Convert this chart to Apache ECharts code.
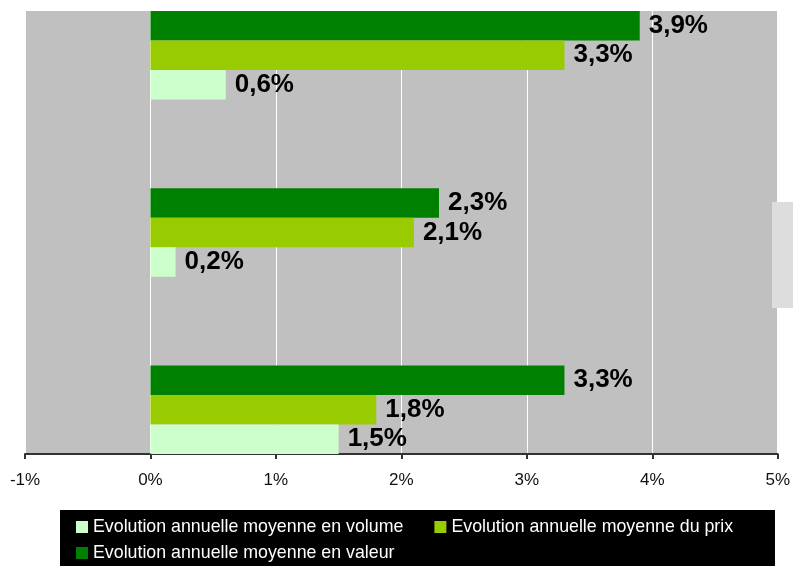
<!DOCTYPE html>
<html>
<head>
<meta charset="utf-8">
<script src="https://cdn.jsdelivr.net/npm/echarts@6/dist/echarts.min.js"></script>
<style>html,body{margin:0;padding:0;background:#fff}#c{width:793px;height:566px}</style>
</head>
<body>
<div id="c"></div>
<script>
// Categories listed bottom to top (no visible labels in the reference)
const categories = ['Groupe 3', 'Groupe 2', 'Groupe 1'];
const seriesNames = ['Evolution annuelle moyenne en volume', 'Evolution annuelle moyenne du prix', 'Evolution annuelle moyenne en valeur'];
const volume = [1.5, 0.2, 0.6];
const prix = [1.8, 2.1, 3.3];
const valeur = [3.3, 2.3, 3.9];
const xTicks = [-1, 0, 1, 2, 3, 4, 5];
const colors = ['#CCFFCC', '#99CC00', '#008000'];

// Interleave an empty slot between the groups so the gaps equal the group height
function spaced(arr) {
  const out = [];
  arr.forEach((v, i) => { if (i > 0) out.push('-'); out.push(v); });
  return out;
}
const yData = spaced(categories).map(v => v === '-' ? '' : v);

const fmt = v => v.toFixed(1).replace('.', ',') + '%';

const mkSeries = (name, data, color) => ({
  name: name,
  type: 'bar',
  data: spaced(data),
  barGap: '0%',
  barCategoryGap: '0%',
  itemStyle: { color: color },
  label: {
    show: true, position: 'right', distance: 9,
    formatter: p => fmt(p.value),
    fontFamily: 'Arial, "Liberation Sans", sans-serif',
    fontWeight: 'bold', fontSize: 26, color: '#000'
  },
  emphasis: { disabled: true },
  animation: false
});

const chart = echarts.init(document.getElementById('c'));
chart.setOption({
  animation: false,
  textStyle: { fontFamily: 'Arial, "Liberation Sans", sans-serif' },
  grid: {
    left: 25, right: 14, top: 11, bottom: 112,
    show: true, backgroundColor: '#C0C0C0', borderWidth: 0
  },
  xAxis: {
    type: 'value', min: xTicks[0], max: xTicks[xTicks.length - 1], interval: 1,
    axisLine: { show: true, onZero: false, lineStyle: { color: '#333', width: 2 } },
    axisTick: { show: true, length: 5, lineStyle: { color: '#333', width: 2 } },
    axisLabel: { margin: 18, fontSize: 17, color: '#111', formatter: v => v + '%' },
    splitLine: { show: true, lineStyle: { color: '#FFFFFF', width: 1 } }
  },
  yAxis: {
    type: 'category', data: yData,
    axisLine: { show: false }, axisTick: { show: false }, axisLabel: { show: false },
    splitLine: { show: false }
  },
  legend: [
    {
      data: [seriesNames[0], seriesNames[1]],
      left: 76, top: 518, padding: 0, itemGap: 31,
      itemWidth: 12, itemHeight: 12, icon: 'rect',
      textStyle: { color: '#fff', fontSize: 17.8 }
    },
    {
      data: [seriesNames[2]],
      left: 76, top: 544, padding: 0,
      itemWidth: 12, itemHeight: 12, icon: 'rect',
      textStyle: { color: '#fff', fontSize: 17.8 }
    }
  ],
  graphic: [
    { type: 'rect', shape: { x: 60, y: 510, width: 715, height: 60 }, style: { fill: '#000' }, z: -1 },
    { type: 'rect', shape: { x: 772, y: 202, width: 21, height: 106 }, style: { fill: '#DDDDDD' }, z: 100 }
  ],
  // Series listed top-of-group first (ECharts stacks the first series at the top for horizontal bars)
  series: [
    mkSeries(seriesNames[2], valeur, colors[2]),
    mkSeries(seriesNames[1], prix, colors[1]),
    mkSeries(seriesNames[0], volume, colors[0])
  ]
});
</script>
</body>
</html>
